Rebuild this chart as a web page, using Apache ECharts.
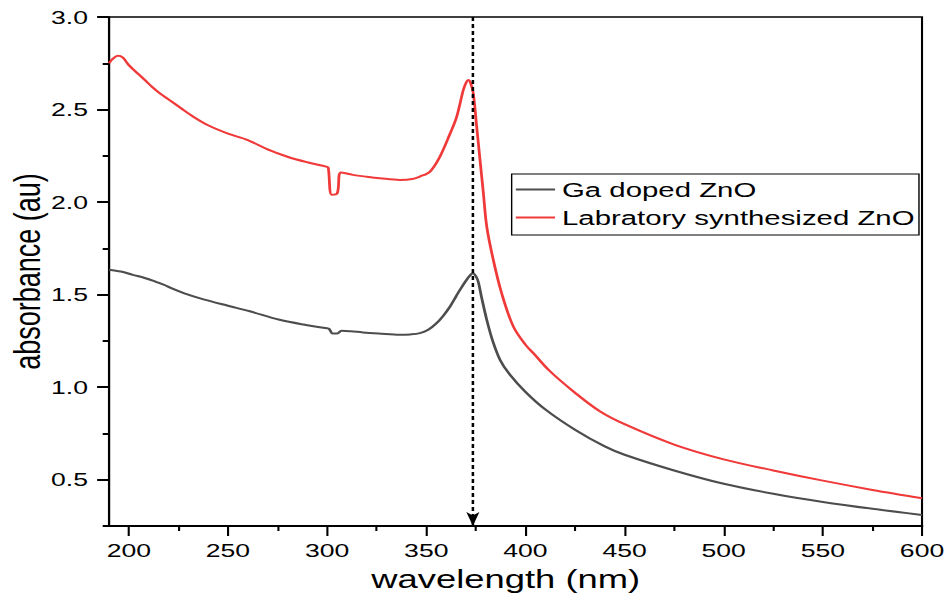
<!DOCTYPE html>
<html>
<head>
<meta charset="utf-8">
<script src="https://cdn.jsdelivr.net/npm/echarts@6/dist/echarts.min.js"></script>
<style>
html,body{margin:0;padding:0;background:#fff;overflow:hidden;width:950px;height:600px;}
#chart{width:679px;height:600px;transform:scaleX(1.39912);transform-origin:0 0;}
</style>
</head>
<body>
<div id="chart"></div>
<script>
// ---- data ----
const gaName = 'Ga doped ZnO';
const labName = 'Labratory synthesized ZnO';

const gaX = [190,196,202,208,214,218,222,228,236,250,261,276,290,300,301,302.8,305.1,307.3,312,318,326,336.8,342,346.8,351,355.2,358.5,362,365,367,370,372,373.5,375,376.2,378,380.5,383.5,387.2,392,400,410,425,440,450,475,500,525,550,575,600];
const gaY = [1.635,1.625,1.607,1.59,1.568,1.552,1.532,1.507,1.48,1.44,1.41,1.364,1.335,1.318,1.315,1.29,1.29,1.305,1.302,1.296,1.29,1.283,1.285,1.292,1.31,1.346,1.385,1.436,1.49,1.526,1.575,1.603,1.615,1.6,1.57,1.48,1.364,1.25,1.148,1.07,0.975,0.88,0.77,0.68,0.635,0.55,0.478,0.424,0.38,0.343,0.31];

const labX = [190,192,194.5,197,200,204,208,212,216,220,226,232,240,250,260,270,280,290,300,300.6,302.3,305.1,307,313,320,326.6,336.7,343,346.8,351.9,356.9,362,365.3,368.7,370.3,371.2,372.3,373.7,375.4,377.1,378.8,380.5,383.8,388,393.9,400,404,412,425,437.5,450,475,500,525,550,575,600];
const labY = [2.75,2.775,2.79,2.78,2.74,2.70,2.66,2.62,2.585,2.555,2.51,2.465,2.415,2.37,2.335,2.285,2.245,2.215,2.19,2.185,2.04,2.048,2.16,2.147,2.137,2.129,2.12,2.125,2.138,2.165,2.246,2.37,2.46,2.606,2.65,2.66,2.645,2.588,2.41,2.228,2.048,1.868,1.688,1.508,1.328,1.23,1.184,1.09,0.97,0.87,0.80,0.69,0.61,0.55,0.495,0.445,0.40];

const xMajor = [200,250,300,350,400,450,500,550,600];
const xMinor = [225,275,325,375,425,475,525,575];
const yMajor = [0.5,1.0,1.5,2.0,2.5,3.0];
const yMinor = [0.25,0.75,1.25,1.75,2.25,2.75];
const peakX = 373.5;

const zip = (xs, ys) => xs.map((x, i) => [x, ys[i]]);
const FONT = 'Liberation Sans, Arial, sans-serif';

const chart = echarts.init(document.getElementById('chart'), null, {renderer: 'svg'});
chart.setOption({
  animation: false,
  backgroundColor: '#fff',
  grid: {left: 77.9, right: 20, top: 17, bottom: 74, outerBoundsMode: 'none', containLabel: false,
         show: true, borderColor: '#000', borderWidth: 1.5, backgroundColor: 'transparent'},
  legend: {
    data: [gaName, labName],
    orient: 'vertical',
    left: 365.7, top: 174,
    padding: [5, 3, 7, 3],
    itemGap: 7,
    itemWidth: 28, itemHeight: 2,
    icon: 'rect',
    borderColor: '#000', borderWidth: 1,
    textStyle: {fontFamily: FONT, fontSize: 21, color: '#000'}
  },
  xAxis: [{
    type: 'value', min: 190, max: 600, position: 'bottom',
    name: 'wavelength (nm)', nameLocation: 'middle', nameGap: 40,
    nameTextStyle: {fontFamily: FONT, fontSize: 26, color: '#000', padding: [0, 14, 0, 0]},
    splitLine: {show: false},
    axisLine: {show: true, lineStyle: {color: '#000', width: 2}},
    axisTick: {show: true, length: 10, customValues: xMajor, lineStyle: {color: '#000', width: 1.5}},
    axisLabel: {customValues: xMajor, fontFamily: FONT, fontSize: 19, color: '#000', margin: 15}
  }, {
    type: 'value', min: 190, max: 600, position: 'bottom',
    splitLine: {show: false},
    axisLine: {show: false},
    axisLabel: {show: false},
    axisTick: {show: true, length: 5, customValues: xMinor, lineStyle: {color: '#000', width: 1.5}}
  }],
  yAxis: [{
    type: 'value', min: 0.25, max: 3.0, position: 'left',
    name: 'absorbance (au)', nameLocation: 'middle', nameGap: 45, nameMoveOverlap: false,
    nameTextStyle: {fontFamily: FONT, fontSize: 27, color: '#000'},
    splitLine: {show: false},
    axisLine: {show: true, lineStyle: {color: '#000', width: 1.5}},
    axisTick: {show: true, length: 8.5, customValues: yMajor, lineStyle: {color: '#000', width: 2}},
    axisLabel: {customValues: yMajor, formatter: v => v.toFixed(1), fontFamily: FONT, fontSize: 19, color: '#000', margin: 15}
  }, {
    type: 'value', min: 0.25, max: 3.0, position: 'left', offset: 0,
    splitLine: {show: false},
    axisLine: {show: false},
    axisLabel: {show: false},
    axisTick: {show: true, length: 4.5, customValues: yMinor, lineStyle: {color: '#000', width: 2}}
  }],
  series: [{
    name: gaName, type: 'line', data: zip(gaX, gaY),
    showSymbol: false, smooth: 0.35,
    itemStyle: {color: '#4d4d4d'},
    lineStyle: {color: '#4d4d4d', width: 2}
  }, {
    name: labName, type: 'line', data: zip(labX, labY),
    showSymbol: false, smooth: 0.35,
    itemStyle: {color: '#f03a3a'},
    lineStyle: {color: '#f03a3a', width: 2}
  }, {
    name: 'marker', type: 'line', data: [],
    markLine: {
      silent: true,
      symbol: ['none', 'arrow'],
      symbolSize: [7, 14],
      label: {show: false},
      lineStyle: {color: '#000', type: [4, 3], width: 1.8},
      data: [[{coord: [peakX, 3.0]}, {coord: [peakX, 0.25]}]]
    }
  }]
});
</script>
</body>
</html>
